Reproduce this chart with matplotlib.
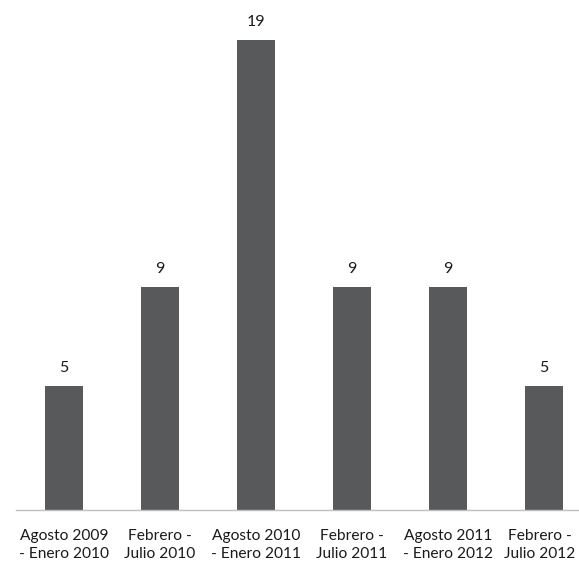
import matplotlib
matplotlib.use("Agg")
import matplotlib.pyplot as plt
import matplotlib.transforms as mtransforms

plt.rcParams['font.family'] = ['Lato', 'DejaVu Sans']

periods = ["Agosto 2009\n- Enero 2010", "Febrero -\nJulio 2010",
           "Agosto 2010\n- Enero 2011", "Febrero -\nJulio 2011",
           "Agosto 2011\n- Enero 2012", "Febrero -\nJulio 2012"]
counts = [5, 9, 19, 9, 9, 5]

W, H = 579, 564
fig = plt.figure(figsize=(W / 100, H / 100), dpi=100)
# category width 96px, first starts at x=16; plot runs off the right edge like the original
left = 16 / W
width = 96 * 6 / W
bottom = (H - 510) / H
top_px = 510 - 20 * (470 / 19)
ax = fig.add_axes([left, bottom, width, (510 - top_px) / H])

x = range(len(counts))
bars = ax.bar(x, counts, width=0.4, color='#58595b')
for xi, v in zip(x, counts):
    ax.text(xi, v + 0.45, str(v), ha='center', va='bottom', fontsize=11.5, color='#1a1a1a')

ax.set_xlim(-0.5, 5.5)
ax.set_ylim(0, 20)
ax.set_yticks([])
ax.set_xticks(list(x))
ax.set_xticklabels(periods, fontsize=11.2, color='#1a1a1a', linespacing=1.35)
ax.tick_params(axis='x', length=0, pad=14)
# last label is nudged left so it stays inside the picture
last = ax.get_xticklabels()[-1]
last.set_transform(last.get_transform() + mtransforms.ScaledTranslation(-4 / 100, 0, fig.dpi_scale_trans))
for s in ['top', 'right', 'left']:
    ax.spines[s].set_visible(False)
ax.spines['bottom'].set_color('#bfbfbf')
ax.spines['bottom'].set_linewidth(1)

fig.savefig('out.png', dpi=100)
